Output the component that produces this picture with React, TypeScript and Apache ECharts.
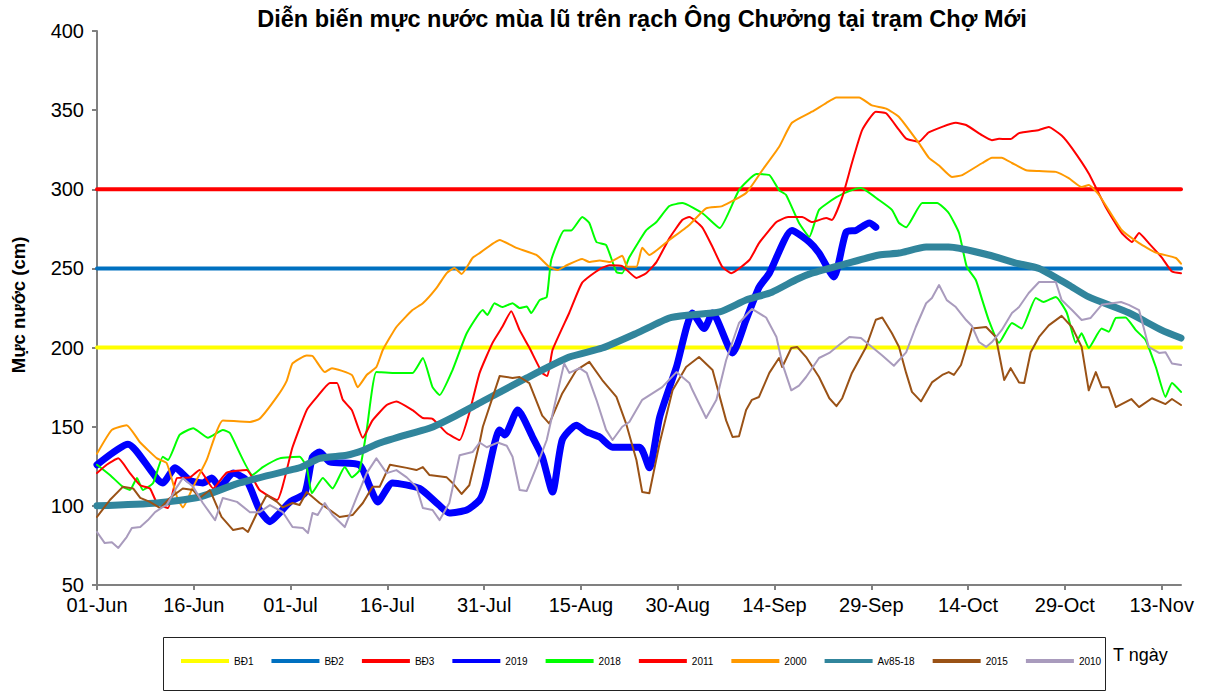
import React, { useEffect, useRef } from "react";
import * as echarts from "echarts";

// x = days after 01-Jun, y = water level (cm)
const START_DATE = Date.UTC(2019, 5, 1);
const MONTHS = ["Jan", "Feb", "Mar", "Apr", "May", "Jun", "Jul", "Aug", "Sep", "Oct", "Nov", "Dec"];
const X_MAX_DAY = 168;
const Y_TICKS = [50, 100, 150, 200, 250, 300, 350, 400];

const BD1 = 200;
const BD2 = 250;
const BD3 = 300;

const y2019 = [[0,126],[4.8,139],[10.2,114.5],[12.1,124],[14.4,116],[16.4,114.5],[17.8,117.6],[19.0,112],[21.1,120.7],[23.2,116],[25.2,97.4],[26.8,90],[28.3,95.5],[29.9,102.5],[32.2,108],[33.4,131],[34.5,134],[36.1,127.7],[40.7,125.8],[42.3,112],[43.5,102.5],[45.8,114.5],[50.0,111],[52.6,102],[54.6,95.5],[57.3,97.4],[59.3,103.7],[60.1,112],[62.4,148],[63.2,144.8],[65.2,160.5],[67.5,143.5],[69.0,131],[70.6,108.7],[72.1,141.6],[74.3,151],[75.9,146.7],[77.9,143.5],[79.9,137],[84.1,137],[85.6,124],[87.2,156],[89.8,187.7],[92.3,221.8],[94.1,212],[95.4,221.8],[98.5,196.6],[100.6,217.6],[102.6,238],[104.2,247],[107.7,274],[110.4,266.7],[111.9,259.7],[114.2,244.6],[116.1,273],[117.6,274],[119.7,278.7],[120.7,276]];

const y2018 = [[0,126],[2.0,119.5],[4.0,112],[5.1,110],[6.2,117.6],[7.1,110],[8.7,114.5],[10.2,131],[11.0,129],[12.8,144.8],[14.9,149],[17.2,143],[19.5,148],[20.6,146],[24.1,119.5],[25.7,124.5],[28.3,130],[31.4,131],[32.5,124.5],[33.3,108],[35.0,117.6],[36.5,111],[38.4,124.5],[39.5,118],[40.7,122.6],[41.8,148],[43.3,184.5],[45.8,184],[48.9,184],[50.5,193.4],[52.0,175],[53.1,170],[55.1,185.8],[57.3,209],[59.8,223.7],[60.5,220.6],[61.6,228],[62.8,225.6],[64.4,228],[65.5,225],[66.6,226],[67.3,221.8],[68.6,230],[69.7,232],[70.4,255.3],[72.4,274],[73.5,274],[75.2,282.5],[76.3,278.7],[77.4,266.7],[78.9,264.8],[80.5,247.7],[81.4,247],[82.5,257],[85.1,274],[86.7,279.3],[88.7,289.4],[90.7,291.3],[93.8,285],[96.5,275.5],[99.5,299.5],[102.2,309.6],[104.2,309],[105.7,299.5],[106.8,296.4],[108.8,278.7],[110.4,270],[111.9,287],[114.6,295],[117.0,299.5],[118.4,300.8],[121.2,293.2],[123.2,287],[124.3,278.7],[125.4,276],[127.9,291.3],[130.2,291.3],[132.0,285],[133.6,272.4],[134.8,251],[136.2,242.7],[137.2,230],[138.2,217.4],[139.8,203],[141.8,215.5],[143.3,212],[145.5,231.3],[146.7,228.8],[148.6,232],[150.3,222],[151.7,203],[152.6,209],[153.7,199.7],[155.7,212],[156.8,210],[157.9,218.7],[159.4,219],[161.0,211],[162.5,204.8],[164.1,187.7],[165.6,168.8],[166.6,177.6],[168,172]];

const y2011 = [[0,120.7],[1.5,126],[3.3,130],[5.1,120.7],[6.7,113],[8.2,111],[9.3,101.8],[11.0,98.6],[12.4,117.6],[14.4,118],[15.9,122.6],[18.0,111],[20.1,121],[23.2,122.6],[25.2,110],[27.9,103.7],[30.3,137],[32.5,160.5],[34.1,168.8],[36.1,177.6],[37.2,177.6],[38.1,167],[39.5,160.5],[41.2,143],[42.7,154],[44.9,163.7],[46.4,166],[48.9,160.5],[50.5,155.5],[52.0,155],[54.2,146],[56.2,141.6],[57.7,158.7],[59.3,184],[61.3,203],[62.8,213],[64.2,223],[65.5,211],[67.0,200],[69.0,184],[69.8,182],[70.6,198.5],[73.2,222],[75.2,241],[77.9,249.6],[79.4,252],[81.4,251.5],[83.6,244],[85.1,247],[86.7,254],[88.7,269],[90.7,280.6],[91.8,282.5],[93.8,276],[95.4,263.5],[96.9,251],[98.3,247],[101.1,255.3],[102.6,266],[105.3,279.3],[107.1,282.5],[109.3,282.5],[110.8,279.3],[113.0,281.8],[113.9,280.6],[115.5,295],[117.0,316.6],[118.6,337.5],[120.7,349],[122.3,348],[124.3,337.5],[125.4,332],[127.4,330],[128.9,336],[133.1,342],[134.7,340.6],[137.2,334],[138.7,331],[139.8,332],[141.6,331.7],[142.9,335.5],[146.0,337.5],[147.5,339.3],[149.5,334],[151.1,326],[153.7,310],[156.3,289],[158.8,272.4],[160.4,266.7],[161.5,272.4],[163.0,266],[165.0,257],[166.6,248],[168,247]];

const y2000 = [[0,133],[2.3,148],[4.6,151],[6.7,140],[9.3,130],[10.8,127],[12.4,105.6],[13.3,99],[14.9,112],[17.0,129],[19.5,154],[23.7,153],[25.2,155],[27.9,169],[29.4,179],[30.3,190],[32.5,195],[33.4,194.7],[35.3,184.5],[36.4,187],[39.5,182.7],[40.4,175],[41.8,182.7],[43.3,187.7],[44.3,198.5],[46.4,213],[48.9,223.7],[50.5,228],[52.6,237.6],[54.2,247],[55.4,250.3],[56.5,246.5],[58.2,256.6],[59.3,259.7],[62.4,268],[65.0,263],[68.1,258.5],[70.1,251],[71.4,249],[72.8,252],[75.2,256],[76.3,254],[77.9,255],[79.4,254],[81.4,258],[82.2,251],[83.6,251],[84.5,263],[85.6,258.5],[88.7,268],[91.8,277.5],[94.4,288],[96.9,289.4],[100.6,297.7],[103.1,312],[105.7,326.7],[107.7,342],[110.8,349],[113.0,354.5],[114.6,358],[118.1,358],[120.1,353],[122.3,351],[124.3,345.7],[127.4,329],[128.9,320],[130.5,315],[132.5,307.8],[134.1,309],[137.2,316.6],[138.7,320],[140.2,320],[141.8,316.6],[144.0,312],[146.0,311.5],[148.6,311],[150.6,307],[152.6,301.4],[153.7,302.7],[155.3,296.4],[158.8,274.3],[161.5,266],[164.1,260],[167.2,256.6],[168,253]];

const yAv8518 = [[0,100],[9.3,101.8],[15.9,105.6],[22.1,114.5],[29.9,122.6],[31.4,124],[34.5,130],[38.7,132],[41.2,135],[43.8,139.7],[48.9,146],[51.5,149],[54.2,154],[59.3,165],[66.6,180.8],[73.2,194],[78.3,199.7],[83.6,209],[88.7,218.7],[91.8,220.6],[96.5,222.5],[100.6,230],[104.6,235],[108.4,243],[110.8,247],[116.1,253],[121.2,258.5],[124.3,259.7],[128.5,263.5],[132.0,263.5],[138.2,258.5],[142.4,253.4],[146.0,250],[150.6,239.5],[153.7,232],[159.9,222],[165.0,211],[168,206]];

const y2015 = [[0,93],[2.0,103.7],[4.0,112],[5.6,111],[6.7,105],[8.2,102.5],[9.8,98.6],[11.3,105],[13.3,111],[14.9,110],[15.9,105],[17.5,110],[19.3,93],[21.1,84.7],[22.6,86],[23.4,83.5],[24.8,95.5],[26.3,106.8],[27.9,102.5],[28.8,99],[30.3,101.8],[31.4,100.5],[32.5,108.7],[34.5,101.8],[36.1,97.4],[37.6,93],[39.6,94.2],[41.2,101.8],[42.7,112],[43.8,112],[45.4,126],[48.0,124],[49.5,122.6],[50.5,124.5],[51.5,119.5],[54.2,118],[55.1,114.5],[56.5,107.5],[57.7,113],[59.3,140],[59.8,150],[62.4,182],[64.4,180.8],[65.5,181.4],[67.0,177.6],[69.0,157],[70.1,152],[72.1,171],[74.3,185.8],[76.3,191],[78.3,179.5],[80.5,168.8],[82.0,152],[83.6,129],[84.5,108.7],[85.6,108],[87.2,139.7],[89.2,173],[91.3,187.7],[93.3,194],[95.4,185.8],[97.5,154],[98.5,143.5],[99.5,144],[100.6,160.5],[101.5,167],[102.6,168.8],[104.2,184],[105.7,193.4],[106.2,187.7],[107.6,199.7],[108.5,200.4],[109.9,194],[111.9,181.4],[113.5,168],[114.6,163],[115.5,168],[117.0,184],[119.2,200.4],[120.7,217.6],[121.7,219],[123.2,209],[124.3,200.4],[125.4,184],[126.3,172],[127.7,166],[129.4,178],[131.0,182.7],[132.0,184.5],[132.8,182.7],[133.9,189],[135.6,212],[137.8,213],[139.3,206.7],[140.6,179.5],[141.6,187],[142.9,178],[143.7,177.6],[144.7,197],[146.0,206.7],[147.5,214],[149.5,220],[151.1,213],[152.6,200.4],[153.7,173],[154.8,184.5],[155.7,175],[156.8,175],[157.9,162.4],[160.3,167.5],[161.5,162.4],[163.5,168],[165.6,164.3],[166.6,167.5],[168,163.7]];

const y2010 = [[0,83.5],[1.2,76.5],[2.3,77],[3.3,73.4],[4.6,80.3],[5.4,86],[6.7,86.6],[7.9,91],[9.0,96],[10.1,99],[10.8,100.5],[12.4,112],[13.3,117.6],[14.9,112],[16.4,101.8],[18.3,91],[19.5,105],[21.7,102.5],[23.7,96],[25.2,96],[26.8,100.5],[28.8,96],[30.3,86.6],[31.9,86],[32.7,82.8],[33.4,95.5],[34.2,94.2],[35.3,101.8],[36.5,94.2],[38.4,86.6],[40.2,105],[41.8,120.7],[43.3,130],[44.9,120.7],[46.4,122.6],[48.0,118],[49.5,112],[50.5,98.6],[52.0,97.4],[53.1,91],[54.6,101.8],[56.2,132],[58.2,134],[59.3,140],[60.4,137],[62.1,140],[63.5,138],[64.4,131],[65.5,110],[66.6,109.4],[68.1,124.5],[69.7,141.6],[71.2,168.8],[72.4,190],[73.2,184],[74.8,187],[75.9,184],[77.4,167],[78.9,148],[79.9,141.6],[81.4,150],[82.5,153],[84.5,167],[87.6,175],[89.8,184.5],[91.8,177.6],[92.3,173],[94.4,155.5],[96.0,167],[97.5,192],[99.5,215.5],[101.5,224.4],[103.7,219],[105.3,206.7],[106.2,190],[107.6,173],[108.8,176],[109.9,181.4],[111.9,193.4],[113.5,196.6],[115.0,201.6],[116.6,206.7],[118.4,206],[120.1,200.4],[121.7,195],[123.5,188.5],[125.4,197],[126.9,213],[128.5,228],[129.4,231.3],[130.5,239.5],[131.7,230],[133.1,225.6],[134.7,217.4],[135.6,213.6],[136.7,203.5],[137.8,200.4],[138.7,203.5],[140.2,211],[141.8,221.8],[142.9,225.6],[144.4,234.5],[146.0,241.4],[148.6,241.4],[149.5,230],[151.1,223.7],[152.6,217.4],[154.0,218.7],[155.7,227],[158.7,228.8],[159.9,227],[161.5,223.7],[163.0,200.4],[164.6,196.6],[165.6,197],[166.6,190],[168,189]];

const SERIES_NAMES = ["BĐ1", "BĐ2", "BĐ3", "2019", "2018", "2011", "2000", "Av85-18", "2015", "2010"];

const FONT = "'Liberation Sans', Arial, sans-serif";

function fmtDay(v: number): string {
  const d = new Date(START_DATE + v * 86400000);
  const dd = String(d.getUTCDate()).padStart(2, "0");
  return dd + "-" + MONTHS[d.getUTCMonth()];
}

function flat(v: number) {
  return [[0, v], [X_MAX_DAY, v]];
}

export default function App() {
  const ref = useRef<HTMLDivElement>(null);
  useEffect(() => {
    if (!ref.current) return;
    const chart = echarts.init(ref.current, undefined, { renderer: "svg" });
    const lineSeries = (name: string, data: number[][], color: string, width: number, smooth: number | boolean = false) => ({
      name,
      type: "line",
      data,
      showSymbol: false,
      smooth,
      lineStyle: { color, width, join: "round", cap: "round" },
      itemStyle: { color },
      emphasis: { disabled: true },
    });
    chart.setOption({
      animation: false,
      backgroundColor: "#ffffff",
      grid: { left: 97, right: 31, top: 31, bottom: 107, containLabel: false },
      xAxis: {
        type: "value",
        min: 0,
        max: X_MAX_DAY,
        interval: 15,
        axisLine: { show: true, lineStyle: { color: "#808080", width: 2 } },
        axisTick: { show: true, length: 5, lineStyle: { color: "#808080", width: 2 } },
        splitLine: { show: false },
        axisLabel: {
          color: "#000",
          fontSize: 20,
          fontFamily: FONT,
          margin: 10,
          showMaxLabel: false,
          formatter: (v: number) => (v % 15 === 0 ? fmtDay(v) : ""),
        },
      },
      yAxis: {
        type: "value",
        min: Y_TICKS[0],
        max: Y_TICKS[Y_TICKS.length - 1],
        interval: 50,
        axisLine: { show: true, lineStyle: { color: "#808080", width: 2 } },
        axisTick: { show: true, length: 5, lineStyle: { color: "#808080", width: 2 } },
        splitLine: { show: false },
        axisLabel: { color: "#000", fontSize: 20, fontFamily: FONT, margin: 13 },
      },
      legend: {
        data: SERIES_NAMES,
        left: 181,
        top: 656,
        padding: 0,
        icon: "rect",
        itemWidth: 48,
        itemHeight: 4,
        itemGap: 18,
        textStyle: { fontSize: 10, color: "#000", fontFamily: "'Liberation Sans Narrow', 'Liberation Sans', Arial, sans-serif" },
        selectedMode: false,
      },
      graphic: [
        {
          type: "rect",
          shape: { x: 163.5, y: 637.5, width: 942, height: 53 },
          style: { fill: "none", stroke: "#222", lineWidth: 1 },
          silent: true,
        },
        {
          type: "text",
          x: 642,
          y: 19,
          style: {
            text: "Diễn biến mực nước mùa lũ trên rạch Ông Chưởng tại trạm Chợ Mới",
            font: "bold 23.5px 'Liberation Sans', Arial, sans-serif",
            fill: "#000",
            textAlign: "center",
            textVerticalAlign: "middle",
          },
        },
        {
          type: "text",
          x: 18,
          y: 305,
          rotation: Math.PI / 2,
          style: {
            text: "Mực nước (cm)",
            font: "bold 18.5px 'Liberation Sans', Arial, sans-serif",
            fill: "#000",
            textAlign: "center",
            textVerticalAlign: "middle",
          },
        },
        {
          type: "text",
          x: 1113,
          y: 655,
          style: {
            text: "T ngày",
            font: "18px 'Liberation Sans', Arial, sans-serif",
            fill: "#000",
            textAlign: "left",
            textVerticalAlign: "middle",
          },
        },
      ],
      series: [
        lineSeries("BĐ1", flat(BD1), "#FFFF00", 4),
        lineSeries("BĐ2", flat(BD2), "#0070C0", 4),
        lineSeries("BĐ3", flat(BD3), "#FF0000", 4),
        lineSeries("2019", y2019, "#0000FF", 7, 0.2),
        lineSeries("2018", y2018, "#00FF00", 2, 0.15),
        lineSeries("2011", y2011, "#FF0000", 2, 0.15),
        lineSeries("2000", y2000, "#FF9900", 2, 0.15),
        lineSeries("Av85-18", yAv8518, "#31859C", 7, 0.2),
        lineSeries("2015", y2015, "#9A5216", 2),
        lineSeries("2010", y2010, "#A99BBD", 2),
      ],
    });
    return () => chart.dispose();
  }, []);
  return (
    <div
      ref={ref}
      style={{ position: "fixed", left: 0, top: 0, width: 1212, height: 692, background: "#fff" }}
    />
  );
}
